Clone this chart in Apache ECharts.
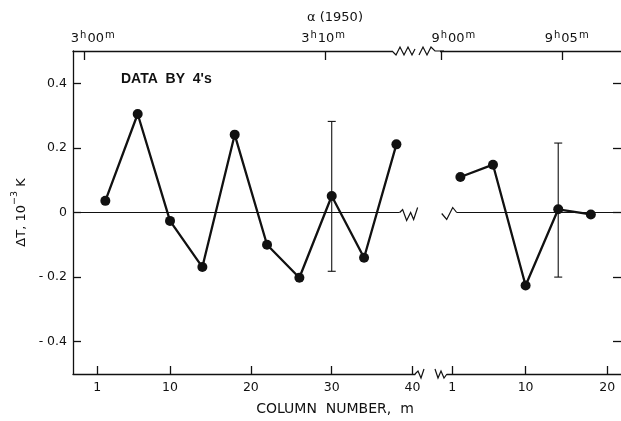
<!DOCTYPE html>
<html><head><meta charset="utf-8">
<script src="https://cdn.jsdelivr.net/npm/echarts@6/dist/echarts.min.js"></script>
<style>html,body{margin:0;padding:0;background:#fff}#c{width:621px;height:421px}</style>
</head><body><div id="c"></div>
<script>
// ---- data ----
const leftColumns = [2, 6, 10, 14, 18, 22, 26, 30, 34, 38];
const leftValues = [0.036, 0.305, -0.026, -0.169, 0.241, -0.10, -0.202, 0.051, -0.14, 0.211];
const rightColumns = [2, 6, 10, 14, 18];
const rightValues = [0.11, 0.148, -0.226, 0.01, -0.006];
const leftError = [30, -0.182, 0.282];
const rightError = [14, -0.20, 0.215];
const yTicks = [-0.4, -0.2, 0, 0.2, 0.4];
const leftBottomTicks = [1, 10, 20, 30, 40];
const rightBottomTicks = [1, 10, 20];
const leftTopTicks = [-0.6, 29.2];
const leftTopLabelPos = [0.5, 29.0];
const leftTopLabels = ['3h00m', '3h10m'];
const rightTopTicks = [-0.3, 14.5];
const rightTopLabelPos = [1.2, 15.1];
const rightTopLabels = ['9h00m', '9h05m'];
const leftRange = [-2, 40.3];
const rightRange = [-0.5, 21.7];
const leftZeroEnd = 38.4;
const rightZeroStart = 1.55;

const INK = '#111111';
const FONT = 'DejaVu Sans';

function pairs(xs, ys) { return xs.map((x, i) => [x, ys[i]]); }
function topFormatter(pos, labels) {
  return function (v) {
    let idx = pos.findIndex(t => Math.abs(t - v) < 1e-6);
    if (idx < 0) return '';
    const m = labels[idx].match(/^(\d+)h(\d+)m$/);
    return '{n|' + m[1] + '}{s|h}{n|' + m[2] + '}{s|m}';
  };
}
const topRich = {
  n: { fontSize: 13, fontFamily: FONT, color: INK, lineHeight: 16, verticalAlign: 'bottom' },
  s: { fontSize: 10, fontFamily: FONT, color: INK, lineHeight: 16, verticalAlign: 'top', padding: [1, 1, 0, 1] }
};
const axisLineStyle = { color: INK, width: 1.3 };

function bottomAxis(grid, range, ticks) {
  return {
    type: 'value', gridIndex: grid, position: 'bottom', min: range[0], max: range[1],
    axisLine: { show: true, onZero: false, lineStyle: axisLineStyle },
    axisTick: { show: true, inside: true, length: 8, customValues: ticks, lineStyle: { color: INK, width: 1.3 } },
    axisLabel: { show: true, customValues: ticks, margin: 7, fontSize: 12.5, fontFamily: FONT, color: INK },
    splitLine: { show: false }
  };
}
function topAxis(grid, range, ticks, labelPos, labels) {
  return {
    type: 'value', gridIndex: grid, position: 'top', min: range[0], max: range[1],
    axisLine: { show: true, onZero: false, lineStyle: axisLineStyle },
    axisTick: { show: true, inside: true, length: 9, customValues: ticks, lineStyle: { color: INK, width: 1.3 } },
    axisLabel: { show: true, customValues: labelPos, margin: 6, formatter: topFormatter(labelPos, labels), rich: topRich },
    splitLine: { show: false }
  };
}
function errRender(params, api) {
  const x = api.value(0), lo = api.value(1), hi = api.value(2);
  const p1 = api.coord([x, hi]), p2 = api.coord([x, lo]);
  const w = 4;
  const st = { stroke: INK, lineWidth: 1.1 };
  return { type: 'group', children: [
    { type: 'line', shape: { x1: p1[0], y1: p1[1], x2: p2[0], y2: p2[1] }, style: st },
    { type: 'line', shape: { x1: p1[0] - w, y1: p1[1], x2: p1[0] + w, y2: p1[1] }, style: st },
    { type: 'line', shape: { x1: p2[0] - w, y1: p2[1], x2: p2[0] + w, y2: p2[1] }, style: st }
  ] };
}
function lineSeries(xi, yi, data, zeroSeg) {
  return {
    type: 'line', xAxisIndex: xi, yAxisIndex: yi, data: data, z: 3,
    symbol: 'circle', symbolSize: 10, showSymbol: true,
    itemStyle: { color: INK }, lineStyle: { color: INK, width: 2.3 },
    emphasis: { disabled: true }, animation: false,
    markLine: {
      silent: true, symbol: 'none', animation: false,
      label: { show: false },
      lineStyle: { color: INK, width: 1.2, type: 'solid' },
      data: [[{ coord: [zeroSeg[0], 0] }, { coord: [zeroSeg[1], 0] }]]
    }
  };
}

const chart = echarts.init(document.getElementById('c'), null, { renderer: 'canvas' });
const option = {
  backgroundColor: '#fff',
  animation: false,
  title: {
    text: 'α (1950)', left: 330, top: 6, textAlign: 'center',
    textStyle: { fontSize: 13, fontWeight: 'normal', fontFamily: FONT, color: INK }
  },
  grid: [
    { left: 73, top: 51, width: 342, height: 323 },
    { left: 440, top: 51, width: 182, height: 323 }
  ],
  xAxis: [
    bottomAxis(0, leftRange, leftBottomTicks),
    topAxis(0, leftRange, leftTopTicks, leftTopLabelPos, leftTopLabels),
    bottomAxis(1, rightRange, rightBottomTicks),
    topAxis(1, rightRange, rightTopTicks, rightTopLabelPos, rightTopLabels)
  ],
  yAxis: [
    {
      type: 'value', gridIndex: 0, position: 'left', min: -0.5, max: 0.5,
      axisLine: { show: true, onZero: false, lineStyle: axisLineStyle },
      axisTick: { show: true, inside: true, length: 8, customValues: yTicks, lineStyle: { color: INK, width: 1.3 } },
      axisLabel: { show: true, customValues: yTicks, margin: 6, fontSize: 12.5, fontFamily: FONT, color: INK,
        formatter: v => (Math.abs(v) < 1e-9 ? '0' : (v < 0 ? '- ' + Math.abs(v).toFixed(1) : v.toFixed(1))) },
      splitLine: { show: false },
      name: '{a|ΔT, 10}{s|−3}{a| K}', nameLocation: 'middle', nameGap: 44, nameRotate: 90,
      nameTextStyle: { rich: {
        a: { fontSize: 13, fontFamily: FONT, color: INK, lineHeight: 18, verticalAlign: 'bottom' },
        s: { fontSize: 9.5, fontFamily: FONT, color: INK, lineHeight: 18, verticalAlign: 'top' }
      } }
    },
    {
      type: 'value', gridIndex: 1, position: 'right', min: -0.5, max: 0.5,
      axisLine: { show: false, onZero: false, lineStyle: axisLineStyle },
      axisTick: { show: true, inside: true, length: 8, customValues: yTicks, lineStyle: { color: INK, width: 1.3 } },
      axisLabel: { show: false },
      splitLine: { show: false }
    }
  ],
  series: [
    { type: 'custom', xAxisIndex: 0, yAxisIndex: 0, z: 1, renderItem: errRender, data: [leftError], silent: true },
    { type: 'custom', xAxisIndex: 2, yAxisIndex: 1, z: 1, renderItem: errRender, data: [rightError], silent: true },
    lineSeries(0, 0, pairs(leftColumns, leftValues), [leftRange[0], leftZeroEnd]),
    lineSeries(2, 1, pairs(rightColumns, rightValues), [rightZeroStart, rightRange[1]])
  ]
};
chart.setOption(option);

const gL = chart.convertToPixel({ xAxisIndex: 0, yAxisIndex: 0 }, [leftRange[0], -0.5]);
const gR = chart.convertToPixel({ xAxisIndex: 0, yAxisIndex: 0 }, [leftRange[1], 0.5]);
const z0 = chart.convertToPixel({ xAxisIndex: 0, yAxisIndex: 0 }, [leftZeroEnd, 0]);
const z1 = chart.convertToPixel({ xAxisIndex: 2, yAxisIndex: 1 }, [rightZeroStart, 0]);
const bottomY = gL[1], topY = gR[1], breakX = gR[0];
function pl(points) {
  return { type: 'polyline', z: 100, shape: { points: points }, style: { stroke: INK, lineWidth: 1.2, fill: null } };
}
function off(base, pts) { return pts.map(p => [base[0] + p[0], base[1] + p[1]]); }
chart.setOption({
  graphic: [
    { type: 'rect', z: 99, shape: { x: breakX - 23, y: topY - 3, width: 48, height: 6 }, style: { fill: '#fff' } },
    { type: 'rect', z: 99, shape: { x: breakX + 20, y: bottomY - 3, width: 12, height: 6 }, style: { fill: '#fff' } },
    pl(off([breakX - 23, topY], [[0, 0], [4, 4], [8, -4], [12, 4], [16, -4], [20, 4], [23, -2]])),
    pl(off([breakX + 4, topY], [[0, 4], [4, -4], [8, 4], [12, -4], [16, 0], [25, 0]])),
    pl(off([breakX, bottomY], [[0, 0], [3, -3], [6, 4], [9, -5]])),
    pl(off([breakX + 20, bottomY], [[0, -5], [3, 4], [6, -3], [9, 4], [12, 0]])),
    pl(off(z0, [[0, 0], [3, -3], [7, 8], [11, 0], [14, 7], [18, -5]])),
    pl(off(z1, [[-15, 1], [-10, 7], [-4, -5], [0, 0]])),
    { type: 'text', z: 100, x: 121, y: 72,
      style: { text: 'DATA  BY  4\'s', font: 'bold 14px "Liberation Sans"', fill: INK } },
    { type: 'text', z: 100, x: 335, y: 402,
      style: { text: 'COLUMN  NUMBER,  m', font: '14px "DejaVu Sans"', fill: INK, align: 'center' } }
  ]
});
</script>
</body></html>
